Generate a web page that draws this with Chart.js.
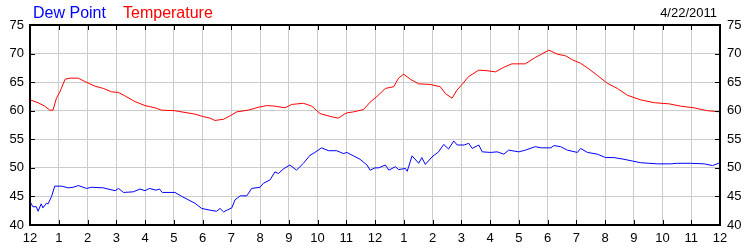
<!DOCTYPE html>
<html>
<head>
<meta charset="utf-8">
<script src="https://cdn.jsdelivr.net/npm/chart.js@4"></script>
<style>
  html, body { margin: 0; padding: 0; background: #fff; }
  canvas { display: block; }
</style>
</head>
<body>
<canvas id="myChart" width="750" height="250"></canvas>
<script>
// readings: hour of day (0 = midnight) and degrees F
const tempHours = [0, 0.28, 0.51, 0.69, 0.8, 0.92, 1.04, 1.22, 1.39, 1.68, 1.91, 2.26, 2.55, 2.84, 3.07, 3.3, 3.65, 4.0, 4.35, 4.58, 5.04, 5.39, 5.74, 6.0,
  6.26, 6.43, 6.73, 6.96, 7.19, 7.59, 7.94, 8.23, 8.52, 8.87, 9.1, 9.51, 9.8, 10.09, 10.44, 10.72, 11.0, 11.25, 11.6, 11.83,
  12.07, 12.36, 12.65, 12.82, 13.0, 13.23, 13.52, 13.92, 14.27, 14.45, 14.68, 14.85, 15.03, 15.26, 15.61, 15.9, 16.19, 16.48, 16.76, 17.23, 17.57,
  18.05, 18.34, 18.63, 18.87, 19.15, 19.39, 19.73, 20.08, 20.43, 20.78, 21.24, 21.71, 22.23, 22.63, 23.1, 23.56, 24];
const tempValues = [61.9, 61.4, 60.8, 60.1, 60.1, 62.2, 63.3, 65.5, 65.7, 65.7, 65.1, 64.3, 63.9, 63.3, 63.2, 62.6, 61.6, 60.9, 60.5, 60.1, 60.0, 59.7, 59.4, 59.0,
  58.7, 58.3, 58.5, 59.1, 59.8, 60.1, 60.6, 60.9, 60.8, 60.5, 61.1, 61.3, 60.8, 59.5, 59.0, 58.7, 59.6, 59.8, 60.2, 61.5,
  62.5, 63.9, 64.2, 65.7, 66.4, 65.5, 64.7, 64.6, 64.2, 63.0, 62.2, 63.6, 64.6, 66.0, 67.1, 67.0, 66.8, 67.6, 68.2, 68.2, 69.3,
  70.6, 69.9, 69.6, 68.9, 68.3, 67.5, 66.2, 64.8, 63.9, 62.7, 61.9, 61.4, 61.2, 60.8, 60.5, 60.0, 59.8];

const dewHours = [0, 0.1, 0.22, 0.28, 0.39, 0.45, 0.57, 0.63, 0.75, 0.86, 1.1, 1.33, 1.5, 1.68, 1.97, 2.14, 2.55, 2.96, 3.08, 3.25, 3.59, 3.83, 4.0, 4.15, 4.38, 4.5, 4.6, 5.04, 5.28, 5.51, 5.74, 5.97,
  6.26, 6.49, 6.61, 6.73, 7.02, 7.13, 7.31, 7.54, 7.71, 8.0, 8.12, 8.35, 8.52, 8.64, 8.81, 9.04, 9.27, 9.51, 9.74, 9.91, 10.14, 10.38, 10.67, 10.9, 11.02, 11.25, 11.48, 11.72, 11.83,
  12.0, 12.13, 12.36, 12.48, 12.71, 12.82, 13.06, 13.12, 13.29, 13.52, 13.63, 13.75, 13.98, 14.21, 14.39, 14.56, 14.74, 14.86, 15.1, 15.26, 15.38, 15.61, 15.73, 16.02, 16.25, 16.48, 16.65, 17.0, 17.23, 17.57, 17.8,
  18.11, 18.23, 18.46, 18.69, 19.04, 19.15, 19.39, 19.73, 20.02, 20.31, 20.66, 20.95, 21.24, 21.82, 22.29, 22.52, 22.98, 23.45, 23.74, 24];
const dewValues = [44.1, 43.2, 43.2, 42.4, 43.7, 43.0, 43.8, 43.7, 45.0, 46.8, 46.8, 46.5, 46.6, 46.9, 46.4, 46.6, 46.5, 46.0, 46.4, 45.7, 45.8, 46.3, 46.0, 46.4, 46.1, 46.3, 45.7, 45.7, 45.0, 44.4, 43.8, 42.9,
  42.6, 42.4, 42.9, 42.3, 43.0, 44.4, 45.1, 45.1, 46.4, 46.6, 47.3, 47.9, 49.3, 49.0, 49.8, 50.5, 49.6, 50.8, 52.2, 52.7, 53.5, 53.0, 53.0, 52.5, 52.7, 52.1, 51.5, 50.5, 49.6,
  50.0, 50.0, 50.5, 49.6, 50.2, 49.7, 49.9, 49.4, 52.1, 50.8, 51.8, 50.6, 51.9, 52.8, 54.1, 53.3, 54.7, 54.0, 54.0, 54.3, 53.4, 54.0, 52.8, 52.7, 52.8, 52.4, 53.1, 52.8, 53.1, 53.7, 53.5,
  53.5, 53.9, 53.7, 53.1, 52.7, 53.4, 52.7, 52.4, 51.8, 51.8, 51.5, 51.2, 50.9, 50.7, 50.7, 50.8, 50.8, 50.7, 50.4, 50.9];

const hourLabels = ["12", "1", "2", "3", "4", "5", "6", "7", "8", "9", "10", "11",
  "12", "1", "2", "3", "4", "5", "6", "7", "8", "9", "10", "11", "12"];
const dateText = "4/22/2011";

const FONT = "Arial, 'Liberation Sans', sans-serif";

function pairs(xs, ys) {
  return xs.map((x, i) => ({ x: x, y: ys[i] }));
}

// frame, inward tick marks and the header texts
const framePlugin = {
  id: "frame",
  afterDraw(chart) {
    const ctx = chart.ctx;
    const a = chart.chartArea;
    const xs = chart.scales.x;
    const ys = chart.scales.y;
    ctx.save();
    ctx.strokeStyle = "#000";
    ctx.lineWidth = 1;
    ctx.beginPath();
    for (let h = 1; h < 24; h++) {
      const px = Math.round(xs.getPixelForValue(h)) + 0.5;
      ctx.moveTo(px, a.top); ctx.lineTo(px, a.top + 5);
      ctx.moveTo(px, a.bottom); ctx.lineTo(px, a.bottom - 5);
    }
    for (let v = 45; v < 75; v += 5) {
      const py = Math.round(ys.getPixelForValue(v)) + 0.5;
      ctx.moveTo(a.left, py); ctx.lineTo(a.left + 5, py);
      ctx.moveTo(a.right, py); ctx.lineTo(a.right - 5, py);
    }
    ctx.stroke();
    ctx.lineWidth = 2;
    ctx.strokeRect(a.left, a.top, a.right - a.left, a.bottom - a.top);

    ctx.textBaseline = "alphabetic";
    ctx.font = "16px " + FONT;
    ctx.textAlign = "left";
    ctx.fillStyle = "#0000ff";
    ctx.fillText("Dew Point", a.left + 3, 18);
    ctx.fillStyle = "#ff0000";
    ctx.fillText("Temperature", a.left + 93, 18);
    ctx.font = "13px " + FONT;
    ctx.fillStyle = "#000";
    ctx.textAlign = "right";
    ctx.fillText(dateText, a.right - 3, 17);
    ctx.restore();
  }
};

const ctx = document.getElementById("myChart").getContext("2d");

new Chart(ctx, {
  type: "line",
  data: {
    datasets: [{
      label: "Temperature",
      data: pairs(tempHours, tempValues),
      borderColor: "#ff0000",
      borderWidth: 1,
      pointRadius: 0,
      fill: false,
      tension: 0
    }, {
      label: "Dew Point",
      data: pairs(dewHours, dewValues),
      borderColor: "#0000ff",
      borderWidth: 1,
      pointRadius: 0,
      fill: false,
      tension: 0
    }]
  },
  options: {
    responsive: false,
    animation: false,
    devicePixelRatio: 1,
    layout: { padding: { top: 25, left: 0, right: 0, bottom: 0 } },
    plugins: {
      legend: { display: false },
      tooltip: { enabled: false }
    },
    scales: {
      x: {
        type: "linear",
        min: 0,
        max: 24,
        afterFit(scale) { scale.height = 25; },
        afterBuildTicks(scale) {
          scale.ticks = hourLabels.map((l, i) => ({ value: i }));
        },
        ticks: {
          autoSkip: false,
          maxRotation: 0,
          padding: 6,
          color: "#000",
          font: { size: 13, family: FONT },
          callback: (v) => hourLabels[v]
        },
        grid: { color: "#cccccc", drawTicks: false },
        border: { display: false }
      },
      y: {
        position: "left",
        min: 40,
        max: 75,
        afterFit(scale) { scale.width = 30; },
        ticks: {
          stepSize: 5,
          padding: 6,
          color: "#000",
          font: { size: 13, family: FONT }
        },
        grid: { color: "#cccccc", drawTicks: false },
        border: { display: false }
      },
      y2: {
        position: "right",
        min: 40,
        max: 75,
        afterFit(scale) { scale.width = 30; },
        ticks: {
          stepSize: 5,
          padding: 7,
          color: "#000",
          font: { size: 13, family: FONT }
        },
        grid: { display: false, drawTicks: false },
        border: { display: false }
      }
    }
  },
  plugins: [framePlugin]
});
</script>
</body>
</html>
